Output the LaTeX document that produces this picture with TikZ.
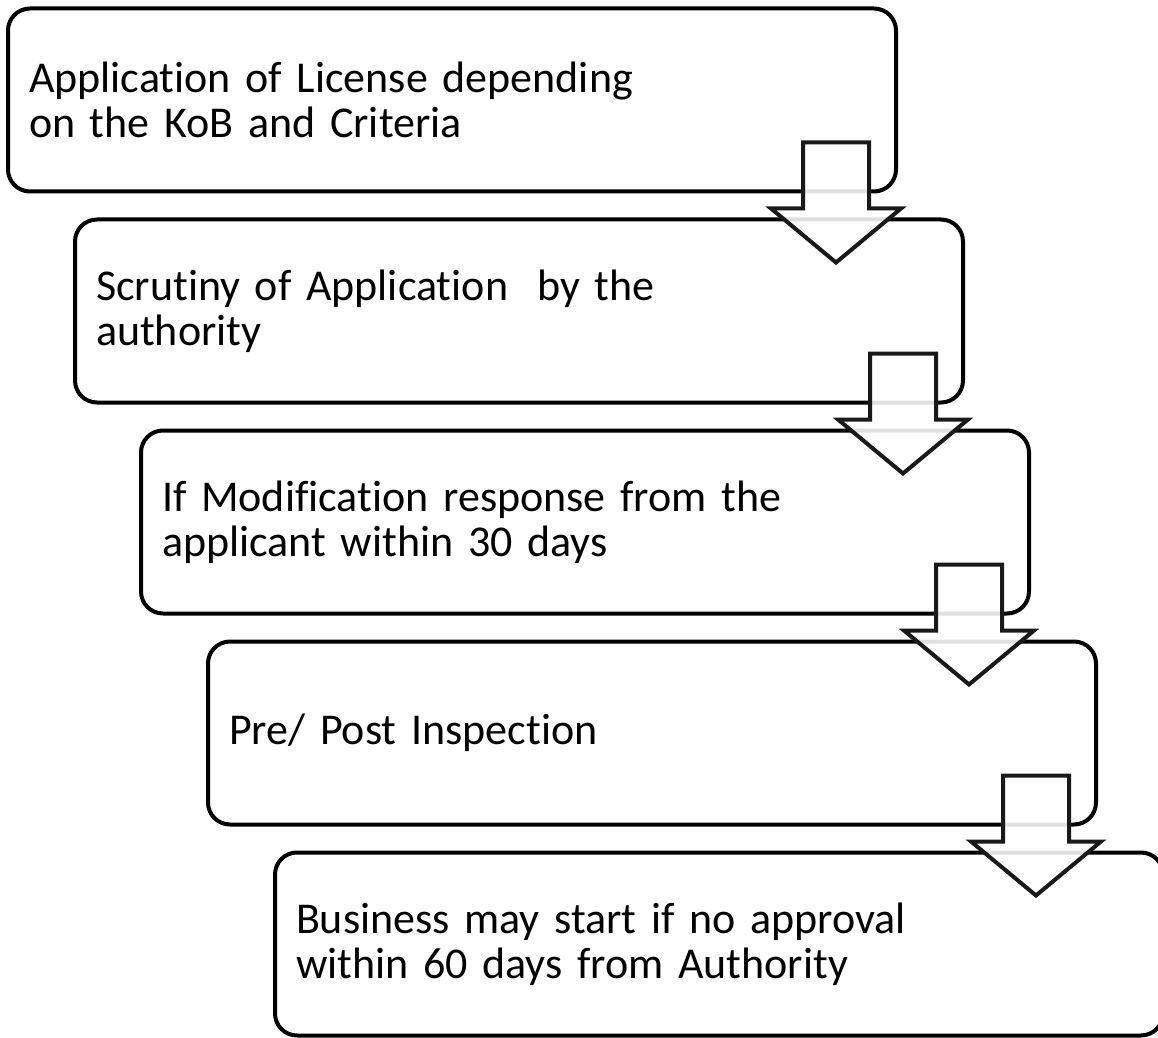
\documentclass[tikz,border=0pt]{standalone}
\usepackage{fontspec}
\setmainfont[Ligatures=NoCommon]{Carlito}
\usetikzlibrary{calc}

\begin{document}
\begin{tikzpicture}[x = 0.5pt, y = -0.5pt,
	stepbox/.style = {draw, line width=2pt, rounded corners=11pt, minimum height=91.5pt, text width=423pt, inner xsep=10.5pt, align=left, font=\fontsize{22pt}{22.5pt}\selectfont},
	downarrow/.style = {draw=black!90, line width=2pt, fill=white, fill opacity=0.88, line join=miter}]
	\clip (0,0) rectangle (1158,1038); % page
	
	\node[stepbox] (app) at (452,100) {Application of License depending\\on the KoB and Criteria};
	\node[stepbox] (scrut) at (519,311) {Scrutiny of Application \ by the\\authority};
	\node[stepbox] (modif) at (585,522) {If Modification response from the\\applicant within 30 days};
	\node[stepbox] (insp) at (652,733) {Pre/ Post Inspection};
	\node[stepbox] (start) at (719,944) {Business may start if no approval\\within 60 days from Authority};
	
	% block arrows over the lower right corners
	\foreach \from in {app,scrut,modif,insp}
		\draw[downarrow] ($(\from.south east)+(-95,-51)$) -- ++(66,0) -- ++(0,66) -- ++(32,0)
			-- ++(-65,54) -- ++(-65,-54) -- ++(32,0) -- cycle;
\end{tikzpicture}
\end{document}
